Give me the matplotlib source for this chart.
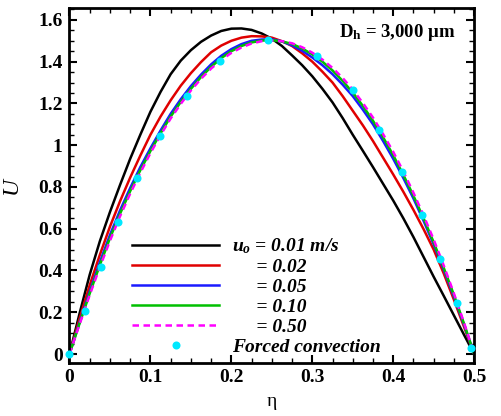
import numpy as np
import matplotlib
matplotlib.use('Agg')
import matplotlib.pyplot as plt
from matplotlib.ticker import MultipleLocator, FuncFormatter

plt.rcParams['font.family'] = ['Liberation Serif', 'DejaVu Serif']
plt.rcParams['font.weight'] = 'bold'
plt.rcParams['mathtext.fontset'] = 'custom'
plt.rcParams['mathtext.rm'] = 'Liberation Serif:bold'
plt.rcParams['mathtext.it'] = 'Liberation Serif:italic:bold'
plt.rcParams['mathtext.bf'] = 'Liberation Serif:bold'

eta = [0, 0.0125, 0.025, 0.0375, 0.05, 0.0625, 0.075, 0.0875, 0.1, 0.1125,
       0.125, 0.1375, 0.15, 0.1625, 0.175, 0.1875, 0.2, 0.2125, 0.225, 0.2375,
       0.25, 0.2625, 0.275, 0.2875, 0.3, 0.3125, 0.325, 0.3375, 0.35, 0.3625,
       0.375, 0.3875, 0.4, 0.4125, 0.425, 0.4375, 0.45, 0.4625, 0.475, 0.4875, 0.5]
u_001 = [0, 0.195, 0.38, 0.54, 0.68, 0.81, 0.935, 1.05, 1.16, 1.255,
         1.34, 1.405, 1.455, 1.495, 1.525, 1.547, 1.558, 1.559, 1.552, 1.535,
         1.51, 1.475, 1.43, 1.383, 1.33, 1.27, 1.205, 1.13, 1.05, 0.973,
         0.895, 0.815, 0.735, 0.65, 0.56, 0.465, 0.37, 0.278, 0.185, 0.092, 0]
u_002 = [0, 0.17, 0.33, 0.475, 0.61, 0.732, 0.845, 0.95, 1.05, 1.137,
         1.215, 1.285, 1.345, 1.398, 1.445, 1.477, 1.5, 1.515, 1.522, 1.521,
         1.515, 1.498, 1.475, 1.44, 1.4, 1.352, 1.3, 1.235, 1.165, 1.095,
         1.02, 0.94, 0.86, 0.777, 0.69, 0.598, 0.5, 0.385, 0.26, 0.13, 0]
u_005 = [0, 0.152, 0.3, 0.44, 0.57, 0.688, 0.795, 0.895, 0.985, 1.07,
         1.15, 1.22, 1.283, 1.338, 1.387, 1.428, 1.46, 1.484, 1.5, 1.506,
         1.507, 1.497, 1.478, 1.452, 1.42, 1.383, 1.34, 1.29, 1.235, 1.17,
         1.1, 1.02, 0.935, 0.843, 0.745, 0.638, 0.525, 0.403, 0.275, 0.14, 0]
u_010 = [0, 0.147, 0.29, 0.426, 0.555, 0.672, 0.78, 0.88, 0.972, 1.057,
         1.137, 1.207, 1.27, 1.326, 1.375, 1.417, 1.45, 1.475, 1.492, 1.501,
         1.503, 1.497, 1.485, 1.463, 1.435, 1.4, 1.358, 1.308, 1.252, 1.188,
         1.117, 1.038, 0.952, 0.858, 0.758, 0.65, 0.535, 0.412, 0.283, 0.145, 0]
u_050 = [0, 0.143, 0.283, 0.416, 0.542, 0.66, 0.768, 0.868, 0.962, 1.048,
         1.128, 1.198, 1.262, 1.318, 1.367, 1.408, 1.442, 1.468, 1.487, 1.498,
         1.501, 1.498, 1.488, 1.469, 1.443, 1.41, 1.37, 1.322, 1.266, 1.202,
         1.132, 1.053, 0.968, 0.874, 0.772, 0.664, 0.548, 0.423, 0.29, 0.15, 0]

# forced convection symbols
eta_fc = [0, 0.019, 0.039, 0.060, 0.083, 0.112, 0.145, 0.186, 0.245, 0.306,
          0.350, 0.383, 0.411, 0.436, 0.458, 0.479, 0.4965]
u_fc = [0, 0.206, 0.417, 0.634, 0.842, 1.044, 1.237, 1.405, 1.504, 1.429,
        1.263, 1.072, 0.870, 0.666, 0.455, 0.243, 0.03]

labels = ['$u_o$ = 0.01 m/s', '     = 0.02', '     = 0.05',
          '     = 0.10', '     = 0.50', 'Forced convection']

fig = plt.figure(figsize=(5.01, 4.16), dpi=100)
ax = fig.add_axes([0.1387, 0.1274, 0.8077, 0.8534])

ax.plot(eta, u_001, color='black', lw=1.8, label=labels[0])
ax.plot(eta, u_002, color='#e00000', lw=1.8, label=labels[1])
ax.plot(eta, u_005, color='#1a1aff', lw=1.8, label=labels[2])
ax.plot(eta, u_010, color='#00c000', lw=1.8, label=labels[3])
ax.plot(eta, u_050, color='#ff00ff', lw=1.8, ls=(0, (2.6, 1.8)), label=labels[4])
ax.plot(eta_fc, u_fc, 'o', color='#00e8ff', ms=5.8, mec='none', label=labels[5],
        clip_on=False, zorder=5)

ax.set_xlim(0, 0.5)
ax.set_ylim(-0.043, 1.657)
ax.xaxis.set_major_locator(MultipleLocator(0.1))
ax.xaxis.set_minor_locator(MultipleLocator(0.025))
ax.yaxis.set_major_locator(MultipleLocator(0.2))
ax.yaxis.set_minor_locator(MultipleLocator(0.05))
fmt = FuncFormatter(lambda v, p: '%g' % round(v, 3))
ax.xaxis.set_major_formatter(fmt)
ax.yaxis.set_major_formatter(fmt)
ax.tick_params(which='both', direction='in', top=True, right=True, labelsize=14)
ax.tick_params(which='major', length=6, width=1.5)
ax.tick_params(which='minor', length=3.5, width=1)
ax.tick_params(axis='x', pad=4)
ax.tick_params(axis='y', pad=5)
for s in ax.spines.values():
    s.set_linewidth(2)

ax.set_xlabel('η', fontsize=14, fontweight='normal', labelpad=5)
ax.set_ylabel('U', fontsize=17, fontstyle='italic', labelpad=12)

ax.text(0.953, 0.93, '$\\mathbf{D_h}$ = 3,000 μm', transform=ax.transAxes,
        ha='right', va='center', fontsize=13.5)

ax.legend(loc='lower left', bbox_to_anchor=(0.154, 0.02), frameon=False,
          prop={'size': 14, 'weight': 'bold', 'style': 'italic'},
          handlelength=4.5, handletextpad=0.65, labelspacing=0.12,
          borderpad=0, borderaxespad=0)

fig.savefig('out.png', dpi=100)
